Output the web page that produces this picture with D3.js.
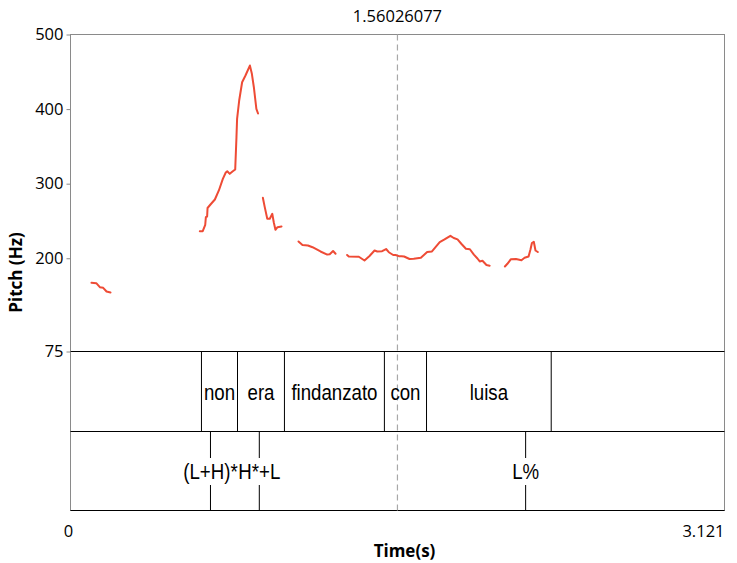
<!DOCTYPE html>
<html><head><meta charset="utf-8">
<script src="https://cdn.jsdelivr.net/npm/d3@7"></script>
<style>body{margin:0;background:#fff}svg{display:block}</style>
</head><body><svg id="c" width="737" height="563"></svg>
<script>
// ---- data ----
const timeDomain = [0, 3.121];
const pitchDomain = [75, 500];
const yTicks = [75, 200, 300, 400, 500];
const xTickLabels = ["0", "3.121"];
const cursorTime = 1.56026077;

// pitch contour segments: [time (s), F0 (Hz)]
const seg1 = [[0.100,167.1],[0.123,166.6],[0.140,161.2],[0.156,160.4],[0.172,155.4],[0.191,154.1]];
const seg2 = [[0.617,236.3],[0.631,236.3],[0.643,244.9],[0.646,255.1],[0.652,256.0],[0.654,267.4],[0.668,272.1],[0.689,278.8],[0.708,290.9],[0.727,306.5],[0.741,315.0],[0.748,316.7],[0.760,313.2],[0.773,316.3],[0.786,319.0],[0.792,362.3],[0.795,387.0],[0.805,411.5],[0.819,436.0],[0.835,445.0],[0.856,458.4],[0.865,448.1],[0.875,429.3],[0.887,400.4],[0.895,394.1]];
const seg3 = [[0.918,281.1],[0.927,268.5],[0.939,252.9],[0.951,252.9],[0.963,259.6],[0.970,248.3],[0.978,238.2],[0.988,241.6],[1.007,242.6]];
const seg4 = [[1.088,222.5],[1.107,217.8],[1.133,217.1],[1.155,214.8],[1.193,209.1],[1.225,205.0],[1.237,205.4],[1.253,209.7],[1.265,206.0]];
const seg5 = [[1.320,204.4],[1.328,202.4],[1.376,202.0],[1.403,197.0],[1.427,203.0],[1.451,210.4],[1.464,209.1],[1.487,209.5],[1.506,212.4],[1.519,208.1],[1.540,204.4],[1.551,204.4],[1.567,202.8],[1.580,202.8],[1.592,202.4],[1.618,199.0],[1.638,199.3],[1.672,200.6],[1.702,208.4],[1.725,209.1],[1.742,214.8],[1.762,221.5],[1.785,225.2],[1.813,230.1],[1.829,227.2],[1.847,225.4],[1.866,219.1],[1.887,212.7],[1.906,212.1],[1.925,204.8],[1.942,199.7],[1.953,195.7],[1.966,196.7],[1.985,191.0],[2.000,190.0]];
const seg6 = [[2.073,189.0],[2.085,192.6],[2.101,198.6],[2.126,199.0],[2.152,197.4],[2.167,200.6],[2.186,202.4],[2.195,211.7],[2.202,220.5],[2.211,222.2],[2.219,210.4],[2.230,208.4]];
const pitchSegments = [seg1, seg2, seg3, seg4, seg5, seg6];

// word tier: interval boundaries and labels
const wordBounds = [0.625, 0.797, 1.021, 1.498, 1.699, 2.294];
const wordLabels = ["non", "era", "findanzato", "con", "luisa"];

// tone tier: point times and labels
const toneTimes = [0.668, 0.901, 2.172];
const toneLabels = ["(L+H)*", "H*+L", "L%"];

// ---- layout ----
const L = 70.5, R = 724.5, T = 34.5, PB = 351.5, T1B = 431.5, T2B = 510.5;
const svg = d3.select("#c");
const x = d3.scaleLinear().domain(timeDomain).range([L, R]);
const y = d3.scaleLinear().domain(pitchDomain).range([PB, T]);
const numFont = "'Open Sans', sans-serif";
const tierFont = "'Liberation Sans', Arial, sans-serif";
const tierSize = 22.5, tierSX = 0.83;

// frame
svg.append("rect").attr("x", L).attr("y", T).attr("width", R - L).attr("height", T2B - T)
  .attr("fill", "none").attr("stroke", "#8a8a8a").attr("stroke-width", 1);
[PB, T1B, T2B].forEach(v => svg.append("line").attr("x1", L).attr("x2", R).attr("y1", v).attr("y2", v)
  .attr("stroke", "#000").attr("stroke-width", 1));

// y axis
const yAxis = d3.axisLeft(y).tickValues(yTicks).tickSize(4).tickPadding(3).tickFormat(d => d);
const ya = svg.append("g").attr("transform", `translate(${L},0)`).call(yAxis);
ya.select(".domain").remove();
ya.selectAll(".tick line").attr("stroke", "#8a8a8a");
ya.selectAll(".tick text").attr("font-family", numFont).attr("font-size", 16.5).attr("fill", "#000");

svg.append("text").attr("transform", `translate(22,${(T + T2B) / 2}) rotate(-90)`)
  .attr("text-anchor", "middle").attr("font-family", numFont).attr("font-weight", "bold")
  .attr("font-size", 17).text("Pitch (Hz)");

// x axis labels
svg.append("text").attr("x", x(timeDomain[0]) - 2).attr("y", 537).attr("text-anchor", "middle")
  .attr("font-family", numFont).attr("font-size", 16.5).text(xTickLabels[0]);
svg.append("text").attr("x", x(timeDomain[1])).attr("y", 537).attr("text-anchor", "end")
  .attr("font-family", numFont).attr("font-size", 16.5).text(xTickLabels[1]);
svg.append("text").attr("x", (L + R) / 2 + 7).attr("y", 557).attr("text-anchor", "middle")
  .attr("font-family", numFont).attr("font-weight", "bold").attr("font-size", 17).text("Time(s)");

// cursor
svg.append("line").attr("x1", x(cursorTime)).attr("x2", x(cursorTime)).attr("y1", T).attr("y2", T2B)
  .attr("stroke", "#a8a8a8").attr("stroke-width", 1.2).attr("stroke-dasharray", "6,4");
svg.append("text").attr("x", x(cursorTime)).attr("y", 22).attr("text-anchor", "middle")
  .attr("font-family", numFont).attr("font-size", 16.5).text(cursorTime.toFixed(8));

// pitch
const line = d3.line().x(d => x(d[0])).y(d => y(d[1]));
svg.append("g").selectAll("path").data(pitchSegments).join("path")
  .attr("d", line).attr("fill", "none").attr("stroke", "#ee4b35").attr("stroke-width", 2)
  .attr("stroke-linejoin", "round").attr("stroke-linecap", "round");

// word tier
svg.append("g").selectAll("line").data(wordBounds).join("line")
  .attr("x1", d => x(d)).attr("x2", d => x(d)).attr("y1", PB).attr("y2", T1B)
  .attr("stroke", "#000").attr("stroke-width", 1);
svg.append("g").selectAll("text").data(wordLabels).join("text")
  .attr("transform", (d, i) => `translate(${(x(wordBounds[i]) + x(wordBounds[i + 1])) / 2},${(PB + T1B) / 2 + 8}) scale(${tierSX},1)`)
  .attr("text-anchor", "middle")
  .attr("font-family", tierFont).attr("font-size", tierSize).text(d => d);

// tone tier
const ty = (T1B + T2B) / 2;
const tg = svg.append("g");
toneTimes.forEach(t => {
  tg.append("line").attr("x1", x(t)).attr("x2", x(t)).attr("y1", T1B).attr("y2", ty - 13).attr("stroke", "#000");
  tg.append("line").attr("x1", x(t)).attr("x2", x(t)).attr("y1", ty + 14).attr("y2", T2B).attr("stroke", "#000");
});
tg.selectAll("text").data(toneLabels).join("text")
  .attr("transform", (d, i) => `translate(${x(toneTimes[i])},${ty + 8}) scale(${tierSX},1)`)
  .attr("text-anchor", "middle")
  .attr("font-family", tierFont).attr("font-size", tierSize).text(d => d);
</script>
</body></html>
